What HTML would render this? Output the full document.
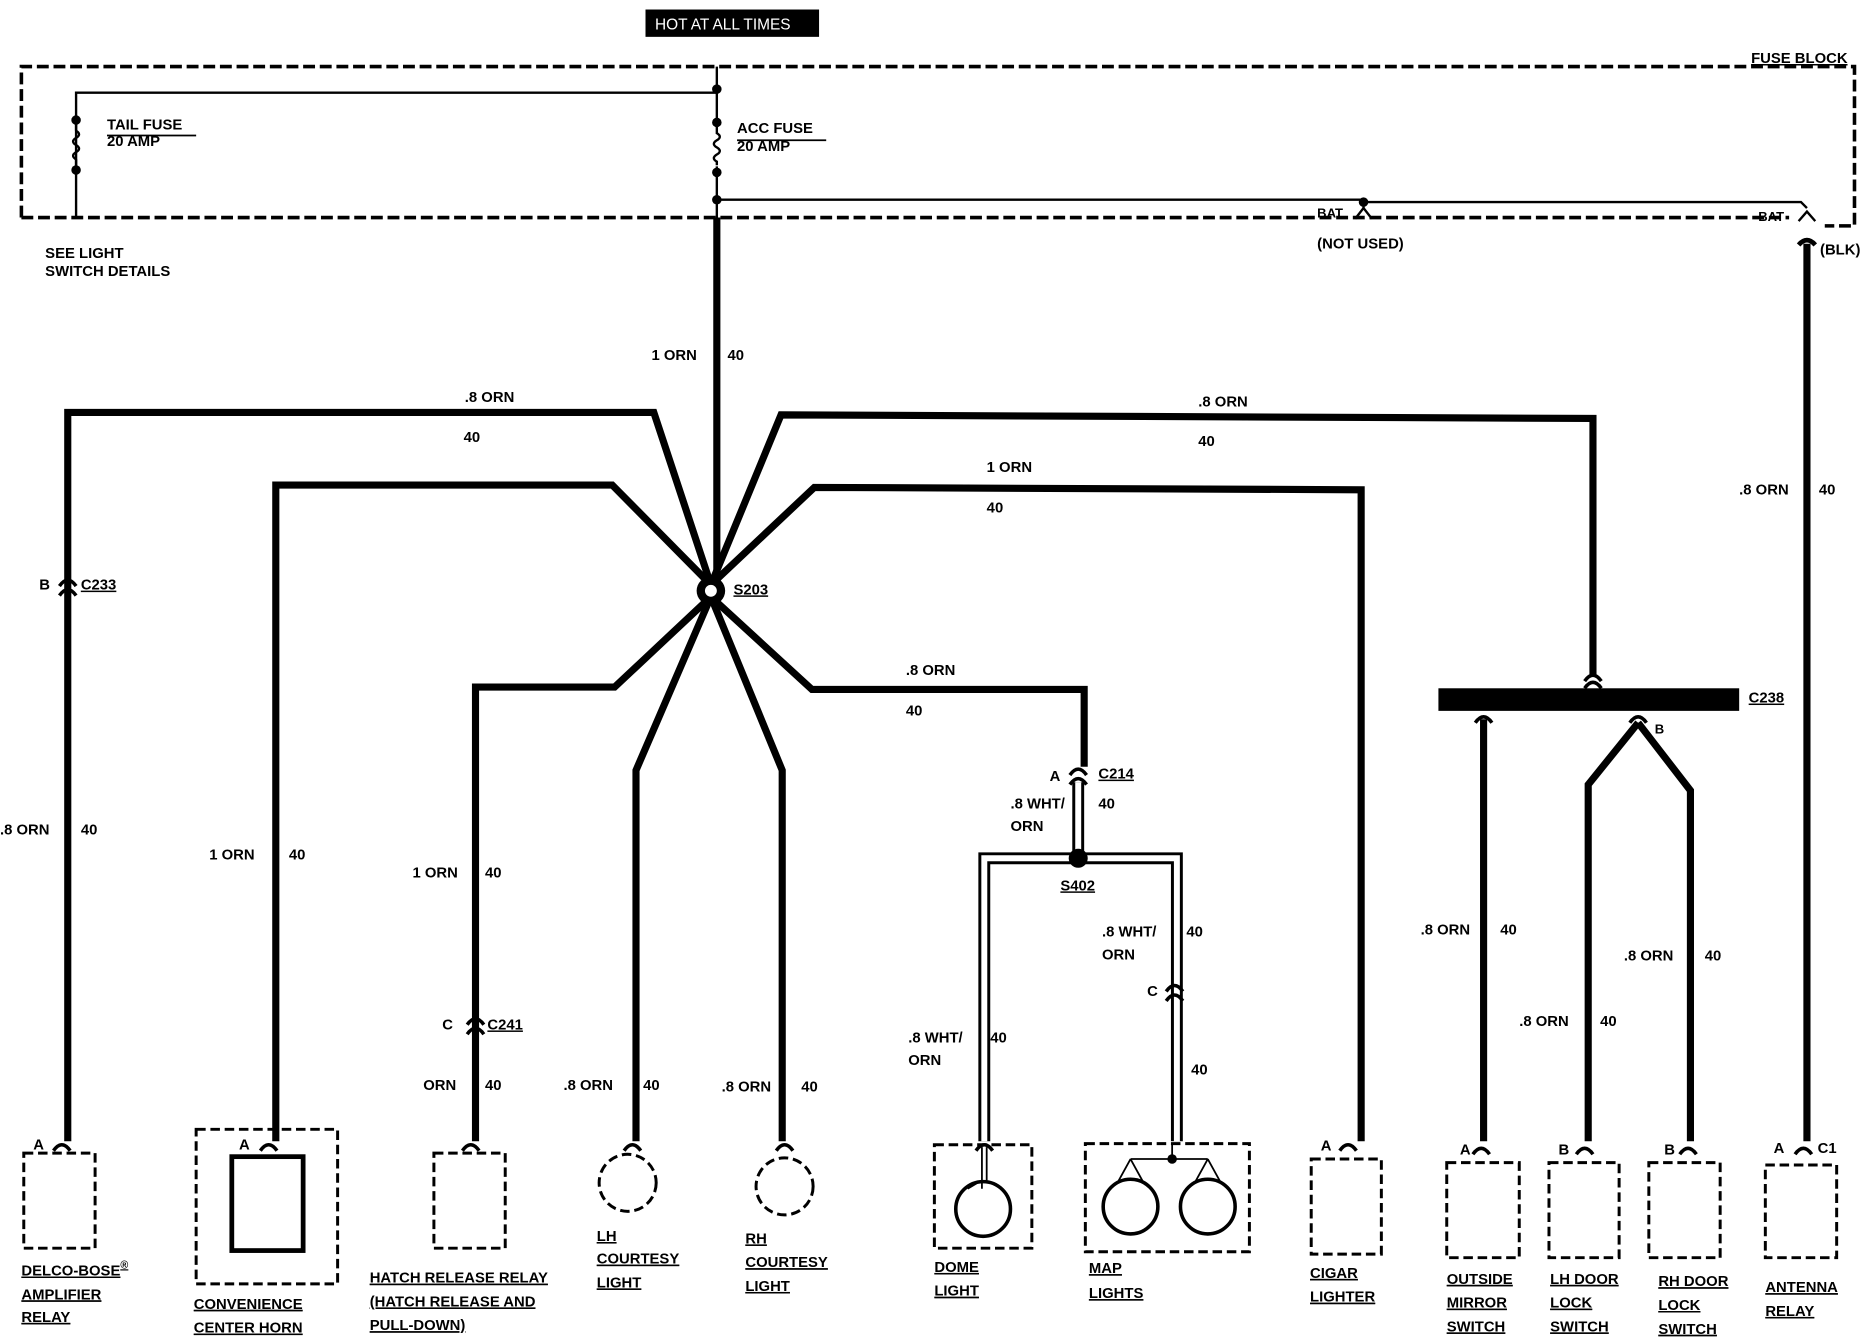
<!DOCTYPE html>
<html><head><meta charset="utf-8"><style>
html,body{margin:0;padding:0;background:#fff;}
svg{display:block}
text{font-family:"Liberation Sans",sans-serif;font-weight:bold;font-size:12.5px;fill:#000}
.u{text-decoration:underline}
</style></head><body>
<svg width="1864" height="1344" viewBox="0 0 1568 1130.6" preserveAspectRatio="none" xmlns="http://www.w3.org/2000/svg">
<defs>
<path id="cap" d="M-7,5 Q0,-5 7,5" fill="none" stroke="#000" stroke-width="3"/>
</defs>
<rect x="543" y="8" width="146" height="23" fill="#000"/>
<text x="551" y="25" style="fill:#fff;font-weight:normal;font-size:13px">HOT AT ALL TIMES</text>

<g fill="none" stroke="#000" stroke-width="3" stroke-dasharray="10,4">
<path d="M18,183 V56 H1560 V190 H1535"/>
<path d="M18,183 H1505"/>
</g>
<text x="1473" y="53" class="u">FUSE BLOCK</text>

<g fill="none" stroke="#000" stroke-width="2">
<path d="M64,183 V78 H603"/>
<path d="M603,56 V103 M603,140 V183 M64,101 V110 M64,134 V143"/>
<path d="M64,110 q5,3 0,6 q-5,3 0,6 q5,3 0,6 q-5,3 0,6"/>
<path d="M603,103 v9 q5,3 0,6 q-5,3 0,6 q5,3 0,6 q-5,3 0,6 v3"/>
<path d="M603,168 H1147 V175 M1147,170 H1515 l5,5"/>
<path d="M1140,184 L1147,175 L1154,184 M1513,186 L1520,178 L1527,186"/>
</g>
<g fill="#000"><circle cx="64" cy="101" r="4"/><circle cx="64" cy="143" r="4"/><circle cx="603" cy="75" r="4"/><circle cx="603" cy="103" r="4"/><circle cx="603" cy="145" r="4"/><circle cx="603" cy="168" r="4"/><circle cx="1147" cy="170" r="4"/></g>
<path d="M90,114 H165 M620,118 H695" stroke="#000" stroke-width="1.5"/>
<text x="90" y="109">TAIL FUSE</text><text x="90" y="123">20 AMP</text>
<text x="620" y="112">ACC FUSE</text><text x="620" y="127">20 AMP</text>
<text x="38" y="217">SEE LIGHT</text><text x="38" y="232">SWITCH DETAILS</text>
<text x="1108" y="183" style="font-size:11px">BAT</text><text x="1108" y="209">(NOT USED)</text>
<text x="1479" y="186" style="font-size:11px">BAT</text><text x="1531" y="214">(BLK)</text>

<!-- thick wires -->
<g fill="none" stroke="#000" stroke-width="6" stroke-linejoin="miter">
<path d="M603,183 V497"/>
<path d="M598,492 L550,347 H57 V960"/>
<path d="M598,492 L515,408 H232 V960"/>
<path d="M598,492 L657,349 L1340,352 V568"/>
<path d="M598,492 L685,410 L1145,412 V960"/>
<path d="M598,502 L517,578 H400 V960"/>
<path d="M598,502 L535,648 V960"/>
<path d="M598,502 L658,648 V960"/>
<path d="M598,502 L683,580 H912 V645"/>
<path d="M1520,205 V960"/>
<path d="M1248,605 V960"/>
<path d="M1378,608 L1336,660 V960 M1378,608 L1422,665 V960"/>
</g>
<path d="M1513,206 q7,-8 14,0" stroke="#000" stroke-width="4" fill="none"/>
<circle cx="598" cy="497" r="12" fill="#000"/><circle cx="598" cy="497" r="5" fill="#fff"/>
<text x="617" y="500" class="u">S203</text>

<!-- double wires -->
<g fill="none" stroke="#000" stroke-width="10"><path d="M907,658 V722 M828,960 V722 H990 V960"/></g>
<g fill="none" stroke="#fff" stroke-width="5"><path d="M907,658 V722 M828,960 V722 H990 V960"/></g>
<circle cx="907" cy="722" r="8" fill="#000"/>
<text x="892" y="749" class="u">S402</text>

<!-- C238 bar -->
<rect x="1210" y="579" width="253" height="19" fill="#000"/>
<text x="1471" y="591" class="u">C238</text>

<!-- connectors -->
<g>
<use href="#cap" x="57" y="488"/><use href="#cap" x="57" y="496"/>
<use href="#cap" x="400" y="857"/><use href="#cap" x="400" y="865"/>
<use href="#cap" x="907" y="647"/><use href="#cap" x="907" y="655"/>
<use href="#cap" x="988" y="829"/><use href="#cap" x="988" y="837"/>
<use href="#cap" x="1340" y="568"/><use href="#cap" x="1340" y="574"/>
<use href="#cap" x="1248" y="603"/><use href="#cap" x="1378" y="603"/>
<use href="#cap" x="52" y="963"/><use href="#cap" x="226" y="963"/><use href="#cap" x="396" y="963"/>
<use href="#cap" x="532" y="963"/><use href="#cap" x="660" y="963"/><use href="#cap" x="828" y="963"/>
<use href="#cap" x="1134" y="963"/><use href="#cap" x="1246" y="966"/><use href="#cap" x="1333" y="966"/>
<use href="#cap" x="1420" y="966"/><use href="#cap" x="1517" y="966"/>
</g>

<!-- boxes -->
<g fill="none" stroke="#000" stroke-width="2.5" stroke-dasharray="8,4">
<rect x="20" y="970" width="60" height="80"/>
<rect x="165" y="950" width="119" height="130"/>
<rect x="365" y="970" width="60" height="80"/>
<circle cx="528" cy="995" r="24"/><circle cx="660" cy="998" r="24"/>
<rect x="786" y="963" width="82" height="87"/>
<rect x="913" y="962" width="138" height="91"/>
<rect x="1103" y="975" width="59" height="80"/>
<rect x="1217" y="978" width="61" height="80"/>
<rect x="1303" y="978" width="59" height="80"/>
<rect x="1387" y="978" width="60" height="80"/>
<rect x="1485" y="980" width="60" height="78"/>
</g>
<rect x="195" y="973" width="60" height="79" fill="none" stroke="#000" stroke-width="4"/>
<g fill="none" stroke="#000" stroke-width="3">
<circle cx="827" cy="1017" r="23"/><circle cx="951" cy="1015" r="23"/><circle cx="1016" cy="1015" r="23"/>
</g>
<g fill="none" stroke="#000" stroke-width="1.5">
<path d="M826,965 V1000 M830,965 V995 M824,994 L814,1000 M832,994 L842,1000"/>
<path d="M986,962 V975 M951,975 H1016 M951,975 L940,995 M951,975 L962,995 M1016,975 L1005,995 M1016,975 L1027,995"/>
</g>
<circle cx="986" cy="975" r="4" fill="#000"/>

<!-- labels -->
<text x="391" y="338">.8 ORN</text><text x="390" y="372">40</text>
<text x="1008" y="342">.8 ORN</text><text x="1008" y="375">40</text>
<text x="830" y="397">1 ORN</text><text x="830" y="431">40</text>
<text x="548" y="303">1 ORN</text><text x="612" y="303">40</text>
<text x="762" y="568">.8 ORN</text><text x="762" y="602">40</text>
<text x="1463" y="416">.8 ORN</text><text x="1530" y="416">40</text>
<text x="33" y="496">B</text><text x="68" y="496" class="u">C233</text>
<text x="0" y="702">.8 ORN</text><text x="68" y="702">40</text>
<text x="176" y="723">1 ORN</text><text x="243" y="723">40</text>
<text x="347" y="738">1 ORN</text><text x="408" y="738">40</text>
<text x="372" y="866">C</text><text x="410" y="866" class="u">C241</text>
<text x="356" y="917">ORN</text><text x="408" y="917">40</text>
<text x="474" y="917">.8 ORN</text><text x="541" y="917">40</text>
<text x="607" y="918">.8 ORN</text><text x="674" y="918">40</text>
<text x="883" y="657">A</text><text x="924" y="655" class="u">C214</text>
<text x="850" y="680">.8 WHT/</text><text x="850" y="699">ORN</text><text x="924" y="680">40</text>
<text x="927" y="788">.8 WHT/</text><text x="927" y="807">ORN</text><text x="998" y="788">40</text>
<text x="965" y="838">C</text><text x="1002" y="904">40</text>
<text x="764" y="877">.8 WHT/</text><text x="764" y="896">ORN</text><text x="833" y="877">40</text>
<text x="1392" y="617" style="font-size:11px">B</text>
<text x="1195" y="786">.8 ORN</text><text x="1262" y="786">40</text>
<text x="1366" y="808">.8 ORN</text><text x="1434" y="808">40</text>
<text x="1278" y="863">.8 ORN</text><text x="1346" y="863">40</text>

<text x="28" y="967">A</text><text x="201" y="967">A</text><text x="1111" y="968">A</text>
<text x="1228" y="971">A</text><text x="1311" y="971">B</text><text x="1400" y="971">B</text>
<text x="1492" y="970">A</text><text x="1529" y="970">C1</text>

<g class="u">
<text x="18" y="1073" class="u">DELCO-BOSE<tspan dy="-6" style="font-size:9px">®</tspan></text>
<text x="18" y="1093" class="u">AMPLIFIER</text><text x="18" y="1112" class="u">RELAY</text>
<text x="163" y="1101" class="u">CONVENIENCE</text><text x="163" y="1121" class="u">CENTER HORN</text>
<text x="311" y="1079" class="u">HATCH RELEASE RELAY</text><text x="311" y="1099" class="u">(HATCH RELEASE AND</text><text x="311" y="1119" class="u">PULL-DOWN)</text>
<text x="502" y="1044" class="u">LH</text><text x="502" y="1063" class="u">COURTESY</text><text x="502" y="1083" class="u">LIGHT</text>
<text x="627" y="1046" class="u">RH</text><text x="627" y="1066" class="u">COURTESY</text><text x="627" y="1086" class="u">LIGHT</text>
<text x="786" y="1070" class="u">DOME</text><text x="786" y="1090" class="u">LIGHT</text>
<text x="916" y="1071" class="u">MAP</text><text x="916" y="1092" class="u">LIGHTS</text>
<text x="1102" y="1075" class="u">CIGAR</text><text x="1102" y="1095" class="u">LIGHTER</text>
<text x="1217" y="1080" class="u">OUTSIDE</text><text x="1217" y="1100" class="u">MIRROR</text><text x="1217" y="1120" class="u">SWITCH</text>
<text x="1304" y="1080" class="u">LH DOOR</text><text x="1304" y="1100" class="u">LOCK</text><text x="1304" y="1120" class="u">SWITCH</text>
<text x="1395" y="1082" class="u">RH DOOR</text><text x="1395" y="1102" class="u">LOCK</text><text x="1395" y="1122" class="u">SWITCH</text>
<text x="1485" y="1087" class="u">ANTENNA</text><text x="1485" y="1107" class="u">RELAY</text>
</g>
</svg>
</body></html>
